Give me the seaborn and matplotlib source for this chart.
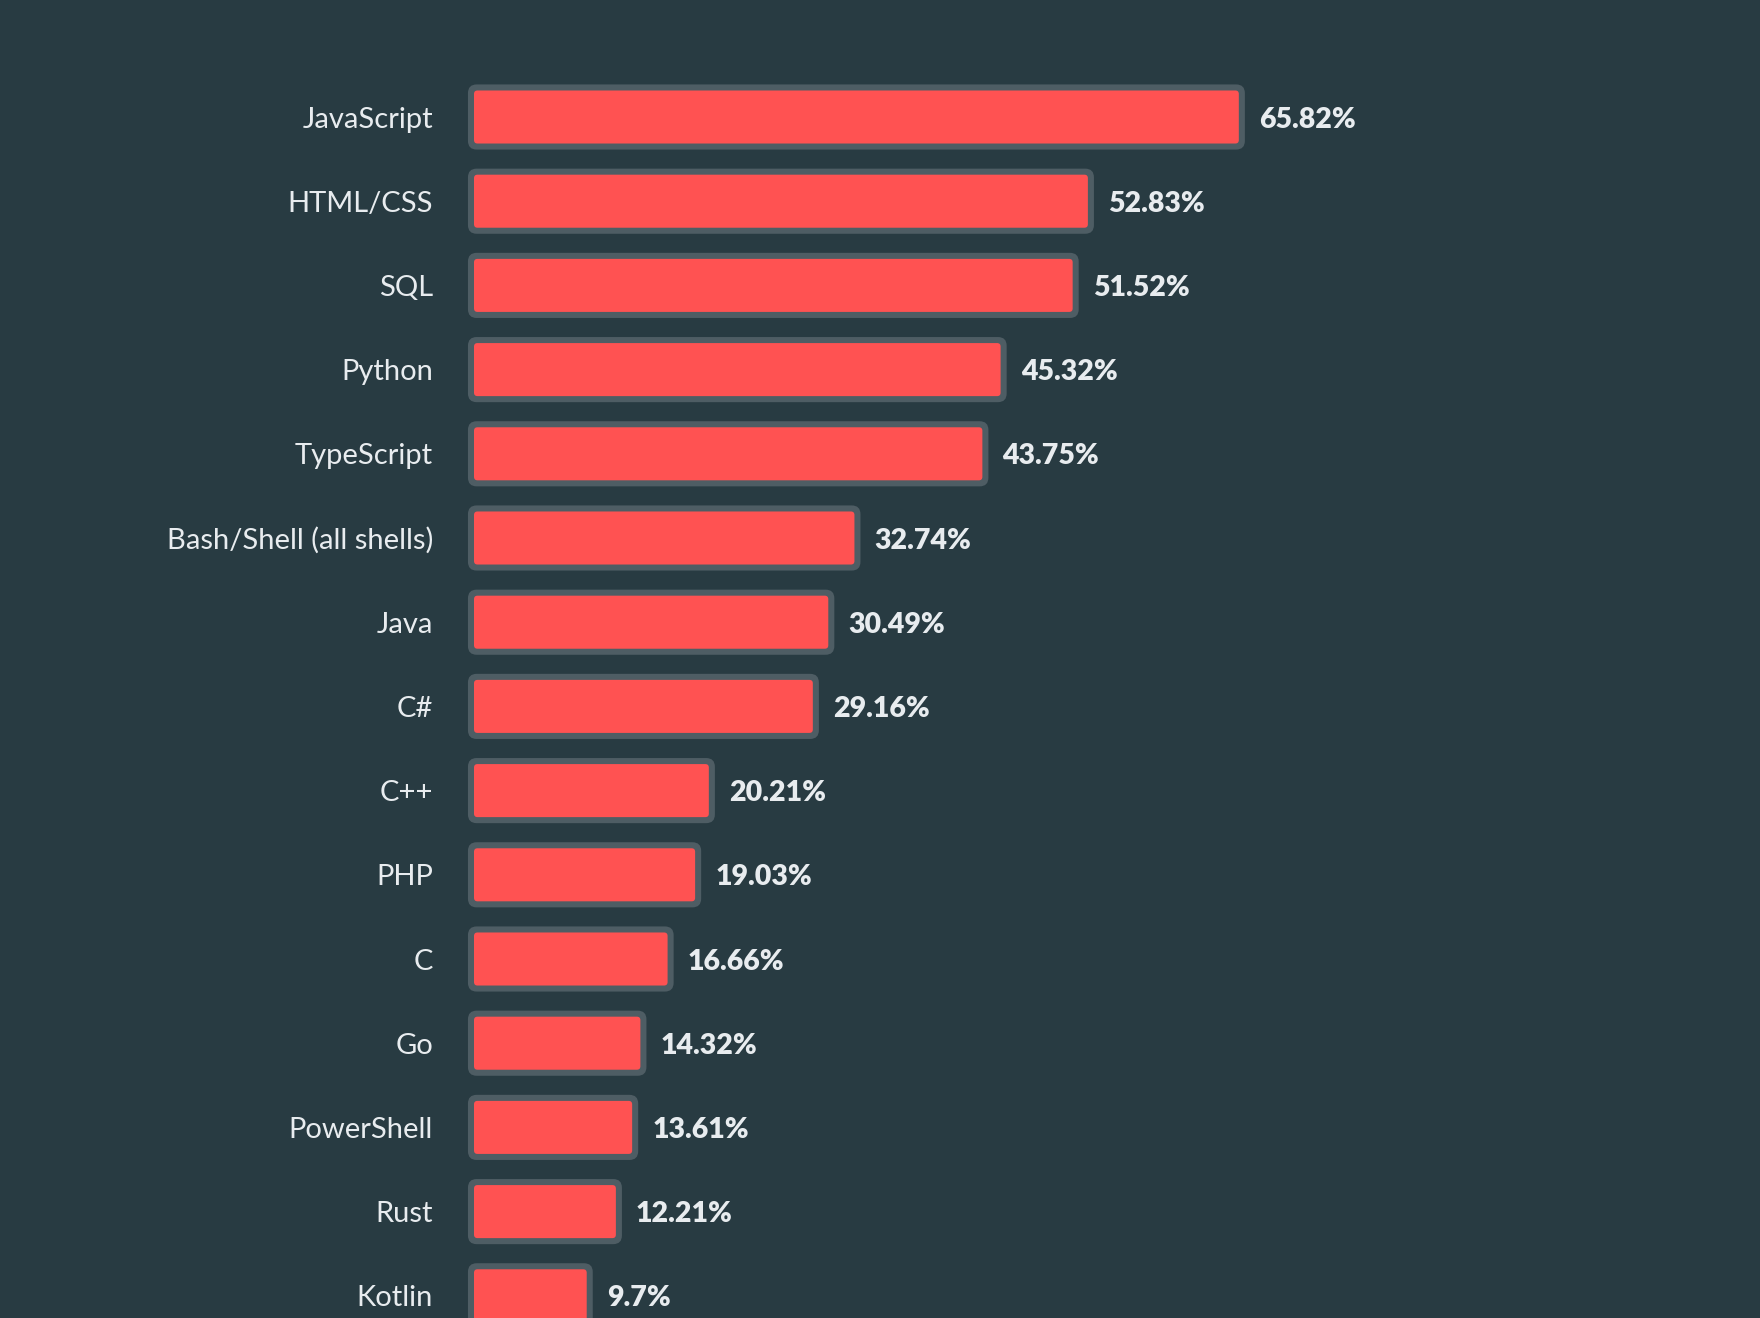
import matplotlib
matplotlib.use("Agg")
import matplotlib.pyplot as plt
from matplotlib.patches import FancyBboxPatch
import pandas as pd
import seaborn as sns

languages = ["JavaScript", "HTML/CSS", "SQL", "Python", "TypeScript",
             "Bash/Shell (all shells)", "Java", "C#", "C++", "PHP", "C",
             "Go", "PowerShell", "Rust", "Kotlin"]
shares = [65.82, 52.83, 51.52, 45.32, 43.75, 32.74, 30.49, 29.16,
          20.21, 19.03, 16.66, 14.32, 13.61, 12.21, 9.7]
share_labels = ["65.82%", "52.83%", "51.52%", "45.32%", "43.75%", "32.74%",
                "30.49%", "29.16%", "20.21%", "19.03%", "16.66%", "14.32%",
                "13.61%", "12.21%", "9.7%"]

bg = "#283b42"
bar_col = "#ff5252"
rim_col = "#4e5d64"
txt_col = "#e8ecef"

df = pd.DataFrame({"language": languages, "share": shares})

sns.set_theme(style="white")
plt.rcParams["font.family"] = ["Lato", "DejaVu Sans"]

W, H = 1760, 1318
fig = plt.figure(figsize=(W / 100, H / 100), dpi=100, facecolor=bg)
x0 = 474      # pixel where zero sits
ax_left = 440
ax = fig.add_axes([ax_left / W, 0, 1 - ax_left / W, 1])
ax.set_facecolor(bg)

px_x = 11.62   # pixels per percent
px_y = 84.2    # pixels per row

sns.barplot(data=df, x="share", y="language", orient="h", color=bar_col,
            width=0.63, saturation=1, ax=ax)

ax.set_xlim(-(x0 - ax_left) / px_x, (W - x0) / px_x)
ax.set_ylim((H - 117) / px_y, -117 / px_y)

# rounded rim + rounded fill on top of seaborn's bar geometry
aspect = px_x / px_y
for p in list(ax.patches):
    x, y = p.get_x(), p.get_y()
    w, h = p.get_width(), p.get_height()
    p.set_visible(False)
    rim = FancyBboxPatch((x, y), w, h,
                         boxstyle="round,pad=0.52,rounding_size=0.75",
                         mutation_aspect=aspect, facecolor=rim_col,
                         edgecolor="none", zorder=1)
    fill = FancyBboxPatch((x, y), w, h,
                          boxstyle="round,pad=0,rounding_size=0.3",
                          mutation_aspect=aspect, facecolor=bar_col,
                          edgecolor="none", zorder=2)
    ax.add_patch(rim)
    ax.add_patch(fill)

for i, (v, lab) in enumerate(zip(shares, share_labels)):
    ax.annotate(lab, xy=(v, i), xytext=(14.5, 0), textcoords="offset points",
                ha="left", va="center_baseline", color=txt_col, fontsize=20.5,
                fontweight="heavy")

ax.set_xlabel("")
ax.set_ylabel("")
ax.set_xticks([])
ax.tick_params(axis="y", length=0, pad=5, labelsize=21, labelcolor=txt_col)
sns.despine(ax=ax, left=True, bottom=True)

fig.savefig("out.png", dpi=100, facecolor=bg)
